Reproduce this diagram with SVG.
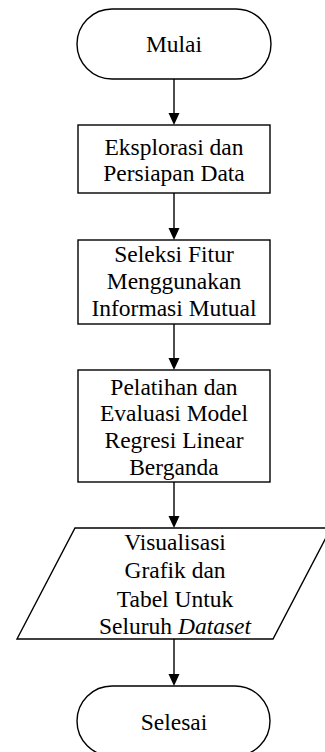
<svg xmlns="http://www.w3.org/2000/svg" width="325" height="752" viewBox="0 0 325 752">
<style>
.s{fill:#fff;stroke:#000;stroke-width:1.4}
.t{font-family:"Liberation Serif","Times New Roman","DejaVu Serif",serif;font-size:23.5px;fill:#000;text-anchor:middle}
.c line{stroke:#000;stroke-width:1.4}
.c polygon{fill:#000}
</style>
<rect width="325" height="752" fill="#fff"/>
<g id="mulai">
<rect class="s" x="77" y="9" width="194" height="70" rx="35" ry="35"/>
<text class="t" x="174" y="51.5">Mulai</text>
</g>
<g id="eksplorasi">
<rect class="s" x="78" y="125" width="192" height="68"/>
<text class="t" x="174" y="155">Eksplorasi dan</text>
<text class="t" x="174" y="181">Persiapan Data</text>
</g>
<g id="seleksi">
<rect class="s" x="78" y="240" width="192" height="84"/>
<text class="t" x="174" y="262">Seleksi Fitur</text>
<text class="t" x="174" y="289">Menggunakan</text>
<text class="t" x="174" y="316">Informasi Mutual</text>
</g>
<g id="pelatihan">
<rect class="s" x="78" y="370" width="192" height="112"/>
<text class="t" x="174" y="394.5">Pelatihan dan</text>
<text class="t" x="174" y="421">Evaluasi Model</text>
<text class="t" x="174" y="448">Regresi Linear</text>
<text class="t" x="174" y="474.5">Berganda</text>
</g>
<g id="visualisasi">
<polygon class="s" points="75,528 331,528 273,639 17,639"/>
<text class="t" x="175" y="550">Visualisasi</text>
<text class="t" x="175" y="578">Grafik dan</text>
<text class="t" x="175" y="606.5">Tabel Untuk</text>
<text class="t" x="175" y="634">Seluruh <tspan font-style="italic">Dataset</tspan></text>
</g>
<g id="selesai">
<rect class="s" x="77" y="686" width="193" height="70" rx="35" ry="35"/>
<text class="t" x="174" y="730">Selesai</text>
</g>
<g id="connectors" class="c">
<line x1="174" y1="79" x2="174" y2="114"/>
<polygon points="168.5,113 179.5,113 174,125"/>
<line x1="174" y1="193" x2="174" y2="229"/>
<polygon points="168.5,228 179.5,228 174,240"/>
<line x1="174" y1="324" x2="174" y2="359"/>
<polygon points="168.5,358 179.5,358 174,370"/>
<line x1="174" y1="482" x2="174" y2="517"/>
<polygon points="168.5,516 179.5,516 174,528"/>
<line x1="174" y1="639" x2="174" y2="675"/>
<polygon points="168.5,674 179.5,674 174,686"/>
</g>
</svg>
